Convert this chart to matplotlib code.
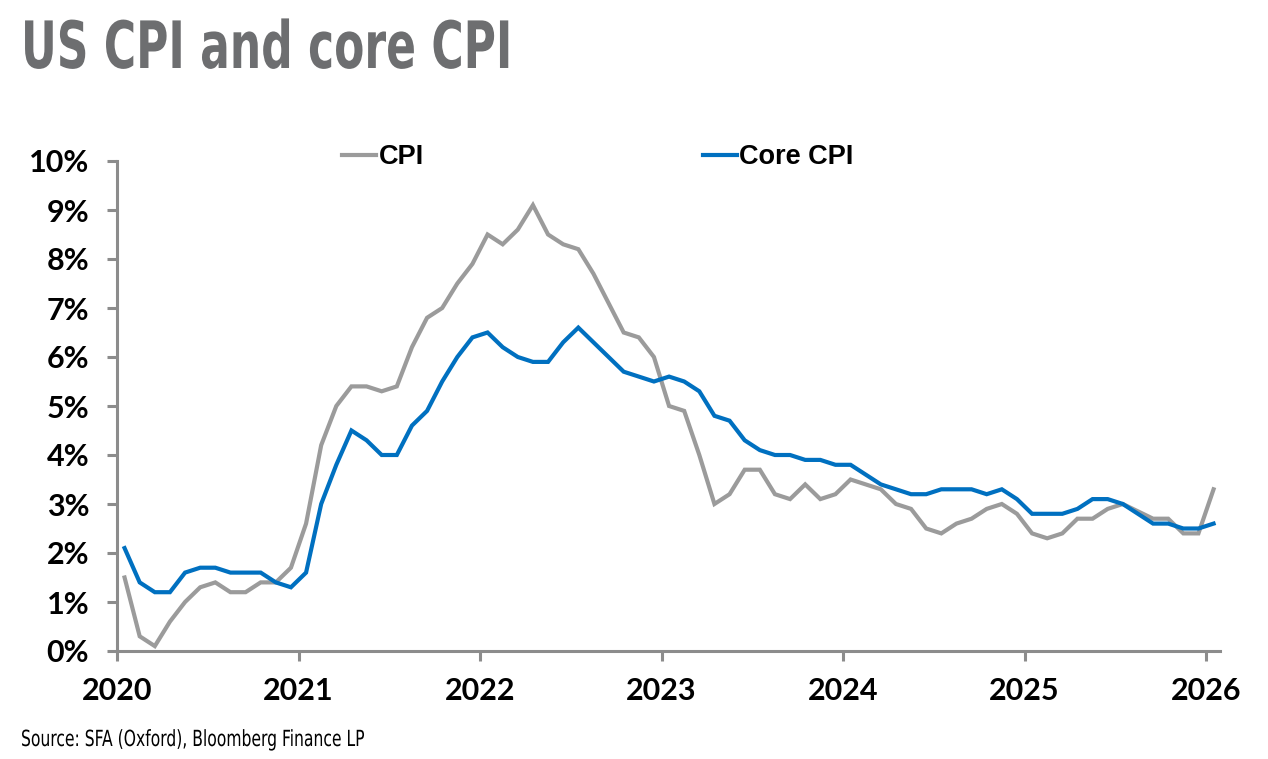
import numpy as np
import matplotlib
matplotlib.use('Agg')
import matplotlib.pyplot as plt
from matplotlib import font_manager
from matplotlib.patheffects import AbstractPathEffect
from matplotlib.transforms import Affine2D

# Year-on-year inflation (%), monthly points as drawn, 73 months
cpi = [1.5, 0.3, 0.1, 0.6, 1.0, 1.3, 1.4, 1.2, 1.2, 1.4,
       1.4, 1.7, 2.6, 4.2, 5.0, 5.4, 5.4, 5.3, 5.4, 6.2,
       6.8, 7.0, 7.5, 7.9, 8.5, 8.3, 8.6, 9.1, 8.5, 8.3,
       8.2, 7.7, 7.1, 6.5, 6.4, 6.0, 5.0, 4.9, 4.0, 3.0,
       3.2, 3.7, 3.7, 3.2, 3.1, 3.4, 3.1, 3.2, 3.5, 3.4,
       3.3, 3.0, 2.9, 2.5, 2.4, 2.6, 2.7, 2.9, 3.0, 2.8,
       2.4, 2.3, 2.4, 2.7, 2.7, 2.9, 3.0, 2.85, 2.7, 2.7,
       2.4, 2.4, 3.3]
core_cpi = [2.1, 1.4, 1.2, 1.2, 1.6, 1.7, 1.7, 1.6, 1.6, 1.6,
            1.4, 1.3, 1.6, 3.0, 3.8, 4.5, 4.3, 4.0, 4.0, 4.6,
            4.9, 5.5, 6.0, 6.4, 6.5, 6.2, 6.0, 5.9, 5.9, 6.3,
            6.6, 6.3, 6.0, 5.7, 5.6, 5.5, 5.6, 5.5, 5.3, 4.8,
            4.7, 4.3, 4.1, 4.0, 4.0, 3.9, 3.9, 3.8, 3.8, 3.6,
            3.4, 3.3, 3.2, 3.2, 3.3, 3.3, 3.3, 3.2, 3.3, 3.1,
            2.8, 2.8, 2.8, 2.9, 3.1, 3.1, 3.0, 2.8, 2.6, 2.6,
            2.5, 2.5, 2.6]
years = [2020, 2021, 2022, 2023, 2024, 2025, 2026]
y_ticks = list(range(0, 11))

# month positions on a fractional-year axis (mid-month)
x = 2020 + (np.arange(len(cpi)) + 0.5) / 12

# look for a condensed face for the title / source line
cond = [f for f in font_manager.fontManager.ttflist
        if f.stretch in ('condensed', 'semi-condensed', 'extra-condensed')
        or 'Narrow' in f.name or 'Condensed' in f.name]
if cond:
    narrow = dict(family=cond[0].name, stretch=cond[0].stretch)
else:
    narrow = dict(family='DejaVu Sans', stretch='condensed')


class Squeeze(AbstractPathEffect):
    """squeeze glyphs horizontally around a left anchor (pixels)"""
    def __init__(self, sx, x0):
        super().__init__()
        self.sx, self.x0 = sx, x0

    def draw_path(self, renderer, gc, tpath, affine, rgbFace=None):
        aff = affine + Affine2D().translate(-self.x0, 0).scale(self.sx, 1).translate(self.x0, 0)
        renderer.draw_path(gc, tpath, aff, rgbFace)


grey_line = '#9b9b9b'
blue_line = '#0070c0'
spine_c = '#8c8c8c'

fig = plt.figure(figsize=(12.68, 7.59), dpi=100)
ax = fig.add_axes([117/1268, 108/759, 1103/1268, 490/759])

l1, = ax.plot(x, cpi, color=grey_line, lw=3, solid_joinstyle='miter', label='CPI')
l2, = ax.plot(x, core_cpi, color=blue_line, lw=3, solid_joinstyle='miter', label='Core CPI')

ax.set_xlim(2020, 2020 + 1103/181.5)
ax.set_ylim(0, 10)
ax.set_xticks(years)
ax.set_xticklabels([str(y) for y in years])
ax.set_yticks(y_ticks)
ax.set_yticklabels(['%d%%' % v for v in y_ticks])

for side in ['top', 'right']:
    ax.spines[side].set_visible(False)
for side in ['left', 'bottom']:
    ax.spines[side].set_color(spine_c)
    ax.spines[side].set_linewidth(2.2)
ax.tick_params(axis='both', colors=spine_c, width=2.2, length=7,
               labelcolor='black')
ax.tick_params(axis='y', pad=13)
ax.tick_params(axis='x', pad=12)
for lab in ax.get_xticklabels() + ax.get_yticklabels():
    lab.set_fontfamily('Lato')
    lab.set_fontweight('bold')
    lab.set_fontsize(22)

fig.legend(handles=[l1, l2], loc='center left',
           bbox_to_anchor=(342/1268, 1 - 157/759), ncol=2, frameon=False,
           prop={'family': 'Liberation Sans', 'weight': 'bold', 'size': 19.5},
           handlelength=1.25, handletextpad=0.1, columnspacing=10.3,
           borderpad=0, borderaxespad=0)

title = fig.text(21/1268, 1 - 68/759, 'US CPI and core CPI', fontsize=47,
                 fontweight='bold', color='#6d6e70', ha='left', va='baseline',
                 **narrow)
title.set_path_effects([Squeeze(0.75, 21)])
src = fig.text(21/1268, 1 - 746/759, 'Source: SFA (Oxford), Bloomberg Finance LP',
               fontsize=16, color='black', ha='left', va='baseline', **narrow)
src.set_path_effects([Squeeze(0.78, 21)])

fig.savefig('out.png', dpi=100)
